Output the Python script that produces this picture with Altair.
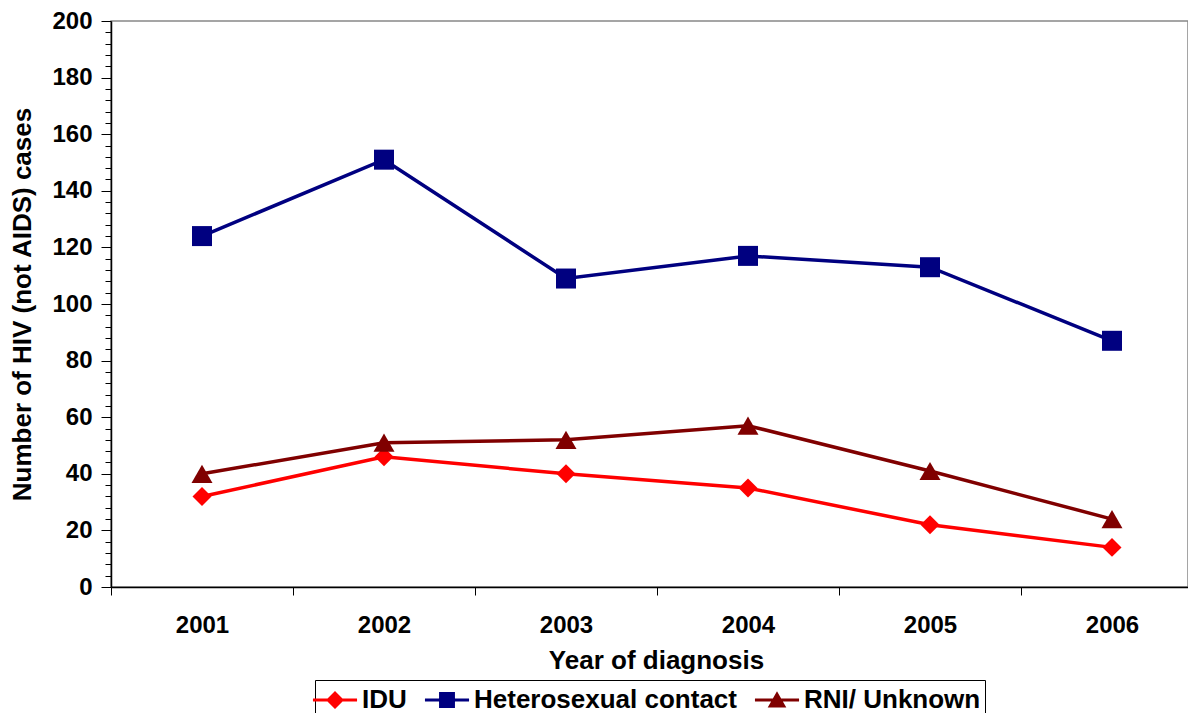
import altair as alt
import pandas as pd

years = ["2001", "2002", "2003", "2004", "2005", "2006"]
series_names = ["IDU", "Heterosexual contact", "RNI/ Unknown"]
idu = [32, 46, 40, 35, 22, 14]
hetero = [124, 151, 109, 117, 113, 87]
rni = [40, 51, 52, 57, 41, 24]
colors = ["#FF0000", "#000080", "#800000"]
point_shapes = ["diamond", "square", "triangle-up"]
point_sizes = [360, 400, 440]
legend_paths = [
    "M-1.47,-0.1H1.47V0.1H-1.47Z M0,-0.6L0.6,0L0,0.6L-0.6,0Z",
    "M-1.47,-0.1H1.47V0.1H-1.47Z M-0.53,-0.53H0.53V0.53H-0.53Z",
    "M-1.47,-0.1H1.47V0.1H-1.47Z M0,-0.58L0.62,0.5L-0.62,0.5Z",
]

rows = []
for name, vals in zip(series_names, [idu, hetero, rni]):
    for y, v in zip(years, vals):
        rows.append({"year": y, "value": v, "series": name})
df = pd.DataFrame(rows)

FONT = "Liberation Sans"

x_enc = alt.X(
    "year:N",
    scale=alt.Scale(type="band", paddingInner=0, paddingOuter=0, range=[0, 1092]),
    axis=alt.Axis(
        title="Year of diagnosis",
        labelAngle=0,
        tickBand="extent",
        tickSize=8,
        labelPadding=18,
        titlePadding=10,
        titleX=545,
    ),
)
y_enc = alt.Y(
    "value:Q",
    scale=alt.Scale(domain=[0, 200], nice=False),
    axis=alt.Axis(
        title="Number of HIV (not AIDS) cases",
        values=list(range(0, 201, 4)),
        labelExpr="datum.value % 20 === 0 ? datum.label : ''",
        labelOverlap=False,
        tickSize={"condition": {"test": "datum.value % 20 === 0", "value": 10}, "value": 6},
        labelPadding=9,
        titlePadding=16,
        grid=False,
    ),
)

base = alt.Chart(df)

layers = []
for name, col in zip(series_names, colors):
    layers.append(
        base.transform_filter(alt.datum.series == name)
        .mark_line(strokeWidth=3.5, color=col)
        .encode(x=x_enc, y=y_enc)
    )
for name, col, shp, sz in zip(series_names, colors, point_shapes, point_sizes):
    layers.append(
        base.transform_filter(alt.datum.series == name)
        .mark_point(shape=shp, filled=True, size=sz, opacity=1, color=col)
        .encode(x=x_enc, y=y_enc)
    )

legend_layer = (
    base.transform_filter("false")
    .mark_point(filled=True, size=900, opacity=1)
    .encode(
        x=x_enc,
        y=y_enc,
        color=alt.Color(
            "series:N",
            scale=alt.Scale(domain=series_names, range=colors),
            legend=alt.Legend(
                title=None,
                orient="none",
                legendX=204,
                legendY=659,
                direction="horizontal",
                symbolSize=900,
                symbolOpacity=1,
                labelFont=FONT,
                labelFontWeight="bold",
                labelFontSize=26,
                labelColor="black",
                labelLimit=600,
                labelOffset=11,
                columnPadding=14,
                strokeColor="black",
                padding=4,
            ),
        ),
        shape=alt.Shape(
            "series:N",
            scale=alt.Scale(domain=series_names, range=legend_paths),
        ),
    )
)
layers.append(legend_layer)

chart = (
    alt.layer(*layers)
    .properties(
        width=1077,
        height=566,
        autosize=alt.AutoSizeParams(type="none"),
        padding={"left": 103, "top": 13, "right": 0, "bottom": 126},
    )
    .configure_view(stroke="#888888", strokeWidth=1.5)
    .configure_axis(
        labelFont=FONT,
        labelFontWeight="bold",
        labelFontSize=24,
        labelColor="black",
        titleFont=FONT,
        titleFontWeight="bold",
        titleFontSize=26,
        titleColor="black",
        domainColor="black",
        domainWidth=1.5,
        tickColor="black",
        tickWidth=1,
    )
)

chart.save("out.html", embed_options={"renderer": "svg", "actions": False})
